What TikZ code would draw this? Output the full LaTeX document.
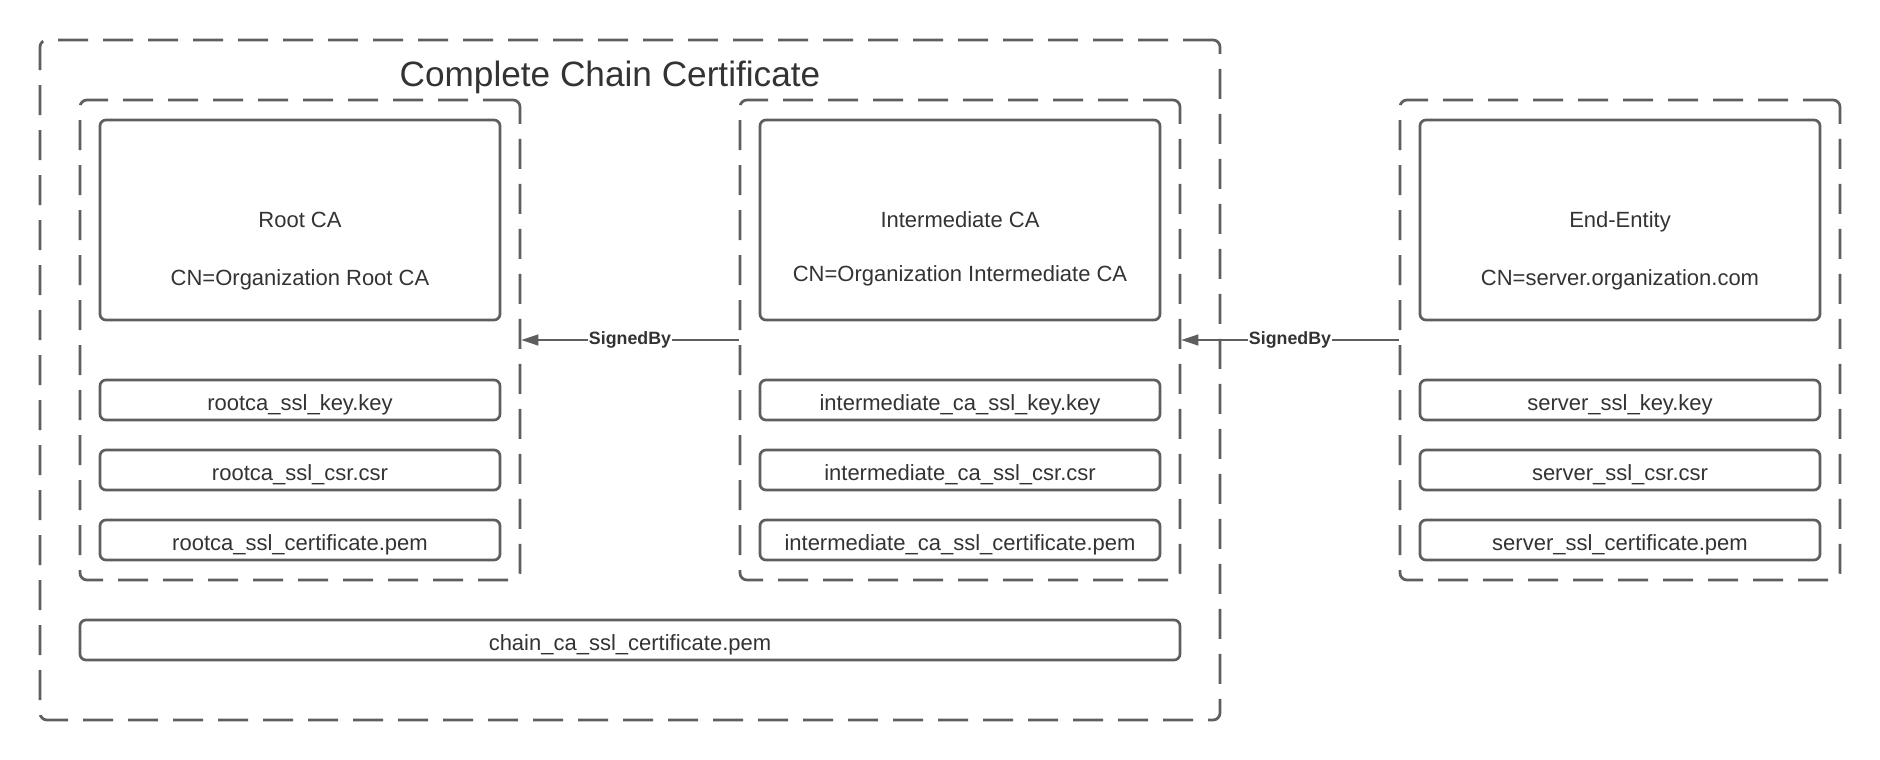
\documentclass[tikz,border=0pt]{standalone}
\usepackage{fontspec}
\setmainfont{Liberation Sans}
\usetikzlibrary{arrows.meta}
\definecolor{linegray}{RGB}{94,94,94}
\definecolor{textgray}{RGB}{51,51,51}

\begin{document}
\begin{tikzpicture}[x=0.5pt, y=-0.5pt,
  every node/.style={text=textgray, font=\fontsize{11}{13}\selectfont},
  groupbox/.style={draw=linegray, line width=1.35pt, dash pattern=on 15pt off 7.5pt, rounded corners=3.5pt, minimum width=220pt, minimum height=240pt},
  certbox/.style={draw=linegray, line width=1.35pt, rounded corners=3pt, minimum width=200pt, minimum height=100pt},
  filebox/.style={draw=linegray, line width=1.35pt, rounded corners=3pt, minimum width=200pt, minimum height=20pt, text height=10pt, text depth=0pt},
  signarrow/.style={draw=linegray, line width=0.75pt, -{Triangle[length=8.5pt,width=5.5pt]}},
  signlabel/.style={fill=white, inner sep=0.5pt, font=\fontsize{8.9}{10}\selectfont\bfseries}]
\useasboundingbox (0,0) rectangle (1880,760);

% outer frame
\node[groupbox, minimum width=590pt, minimum height=340pt] (chain) at (630,380) {};
\node[anchor=base, font=\fontsize{17.6}{20}\selectfont] (chaintitle) at (610,86) {Complete Chain Certificate};

% groups
\node[groupbox] (rootgrp) at (300,340) {};
\node[groupbox] (intgrp) at (960,340) {};
\node[groupbox] (endgrp) at (1620,340) {};

% certificate boxes
\node[certbox] (rootca) at (300,220) {};
\node[anchor=base] (rootname) at (300,227) {Root CA};
\node[anchor=base] (rootcn) at (300,285) {CN=Organization Root CA};

\node[certbox] (intca) at (960,220) {};
\node[anchor=base] (intname) at (960,227) {Intermediate CA};
\node[anchor=base] (intcn) at (960,281) {CN=Organization Intermediate CA};

\node[certbox] (endca) at (1620,220) {};
\node[anchor=base] (endname) at (1620,227) {End-Entity};
\node[anchor=base] (endcn) at (1620,285) {CN=server.organization.com};

% files
\node[filebox] (rootkey) at (300,400) {rootca\_ssl\_key.key};
\node[filebox] (rootcsr) at (300,470) {rootca\_ssl\_csr.csr};
\node[filebox] (rootpem) at (300,540) {rootca\_ssl\_certificate.pem};

\node[filebox] (intkey) at (960,400) {intermediate\_ca\_ssl\_key.key};
\node[filebox] (intcsr) at (960,470) {intermediate\_ca\_ssl\_csr.csr};
\node[filebox] (intpem) at (960,540) {intermediate\_ca\_ssl\_certificate.pem};

\node[filebox] (endkey) at (1620,400) {server\_ssl\_key.key};
\node[filebox] (endcsr) at (1620,470) {server\_ssl\_csr.csr};
\node[filebox] (endpem) at (1620,540) {server\_ssl\_certificate.pem};

\node[filebox, minimum width=550pt] (chainpem) at (630,640) {chain\_ca\_ssl\_certificate.pem};

% signatures
\draw[signarrow] (intgrp.west) -- node[signlabel] (sign1) {SignedBy} (rootgrp.east);
\draw[signarrow] (endgrp.west) -- node[signlabel] (sign2) {SignedBy} (intgrp.east);

\end{tikzpicture}
\end{document}
